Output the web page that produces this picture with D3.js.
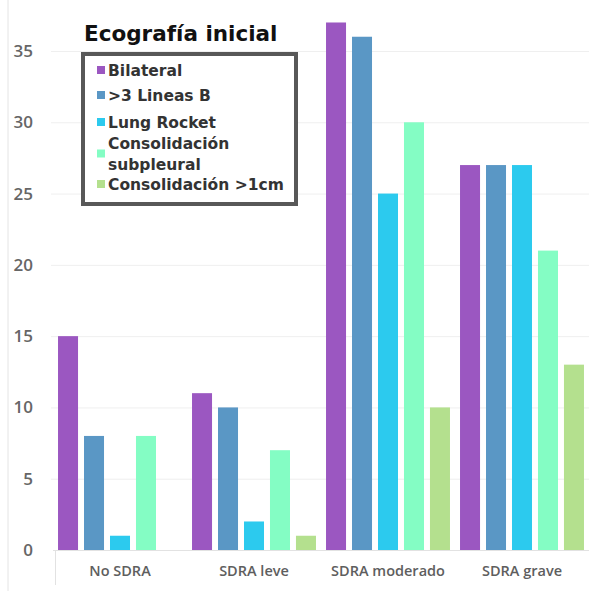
<!DOCTYPE html>
<html>
<head>
<meta charset="utf-8">
<script src="https://cdn.jsdelivr.net/npm/d3@7"></script>
<style>
  html, body { margin: 0; padding: 0; background: #fff; }
  svg { display: block; }
</style>
</head>
<body>
<svg id="chart" width="589" height="591"></svg>
<script>
// Groups along the x axis
const categories = ["No SDRA", "SDRA leve", "SDRA moderado", "SDRA grave"];
// Ultrasound findings (one bar per finding inside each group)
const seriesNames = ["Bilateral", ">3 Lineas B", "Lung Rocket", "Consolidación subpleural", "Consolidación >1cm"];
const bilateral = [15, 11, 37, 27];
const lineasB = [8, 10, 36, 27];
const lungRocket = [1, 2, 25, 27];
const consSubpleural = [8, 7, 30, 21];
const consMayor1cm = [0, 1, 10, 13];
const yTicks = [0, 5, 10, 15, 20, 25, 30, 35];
const title = "Ecografía inicial";

const seriesValues = [bilateral, lineasB, lungRocket, consSubpleural, consMayor1cm];
const colors = ["#9b57c1", "#5a97c5", "#2ccaee", "#84fdc4", "#b4e08e"];

(function draw() {
  const svg = d3.select("#chart");
  const plotLeft = 53, plotRight = 589, plotTop = 51, plotBottom = 550;

  const x = d3.scaleBand().domain(categories).range([plotLeft, plotRight]).paddingInner(0.075).paddingOuter(0.0375);
  const xInner = d3.scaleBand().domain(seriesNames).range([0, x.bandwidth()]).paddingInner(0.23).paddingOuter(0);
  const y = d3.scaleLinear().domain([0, 35]).range([plotBottom, plotTop]);

  // left frame line
  svg.append("line").attr("x1", 8).attr("x2", 8).attr("y1", 0).attr("y2", 591)
    .attr("stroke", "#e4e4e4").attr("stroke-width", 1);

  // horizontal gridlines
  svg.append("g").selectAll("line").data(yTicks.filter(d => d > 0)).join("line")
    .attr("x1", plotLeft - 2).attr("x2", plotRight)
    .attr("y1", d => y(d) + 0.5).attr("y2", d => y(d) + 0.5)
    .attr("stroke", "#efefef").attr("stroke-width", 1);

  // y axis tick labels
  const yAxis = d3.axisLeft(y).tickValues(yTicks).tickSize(0).tickPadding(0);
  const gy = svg.append("g").attr("transform", "translate(33,0)").call(yAxis);
  gy.select(".domain").remove();
  gy.selectAll("text")
    .attr("font-family", "'Open Sans', sans-serif").attr("font-weight", 600)
    .attr("font-size", 17).attr("fill", "#666");

  // bars
  const groups = svg.append("g").selectAll("g").data(categories).join("g")
    .attr("transform", d => `translate(${x(d)},0)`);
  groups.selectAll("rect")
    .data((c, ci) => seriesNames.map((s, si) => ({ s, si, v: seriesValues[si][ci] })))
    .join("rect")
    .attr("x", d => xInner(d.s))
    .attr("width", xInner.bandwidth())
    .attr("y", d => y(d.v))
    .attr("height", d => y(0) - y(d.v))
    .attr("fill", d => colors[d.si]);

  // x axis line and category labels
  svg.append("line").attr("x1", plotLeft).attr("x2", plotRight).attr("y1", plotBottom + 0.5).attr("y2", plotBottom + 0.5)
    .attr("stroke", "#e2e2e2");
  svg.append("line").attr("x1", plotLeft + 2.5).attr("x2", plotLeft + 2.5).attr("y1", plotBottom).attr("y2", 585)
    .attr("stroke", "#e2e2e2");
  const xAxis = d3.axisBottom(x).tickSize(0).tickPadding(0);
  const gx = svg.append("g").attr("transform", `translate(0,${plotBottom + 16})`).call(xAxis);
  gx.select(".domain").remove();
  gx.selectAll("text")
    .attr("font-family", "'Open Sans', sans-serif").attr("font-weight", 600)
    .attr("font-size", 14.5).attr("fill", "#5e5e5e");

  // title
  svg.append("text").attr("x", 84).attr("y", 41).text(title)
    .attr("font-family", "'DejaVu Sans', sans-serif").attr("font-weight", "bold")
    .attr("font-size", 21.5).attr("fill", "#111");

  // legend box
  svg.append("rect").attr("x", 83).attr("y", 54).attr("width", 213).attr("height", 150)
    .attr("fill", "#fff").attr("stroke", "#585858").attr("stroke-width", 4);

  const legendRows = [
    { lines: ["Bilateral"], y: 70 },
    { lines: [">3 Lineas B"], y: 95 },
    { lines: ["Lung Rocket"], y: 122 },
    { lines: ["Consolidación", "subpleural"], y: 143 },
    { lines: ["Consolidación >1cm"], y: 184 }
  ];
  const lg = svg.append("g").selectAll("g").data(legendRows).join("g");
  lg.append("rect")
    .attr("x", 97).attr("width", 8).attr("height", 8)
    .attr("y", d => (d.lines.length > 1 ? d.y + 10.5 : d.y) - 4)
    .attr("fill", (d, i) => colors[i]);
  lg.each(function (d) {
    const t = d3.select(this).append("text")
      .attr("font-family", "'DejaVu Sans', sans-serif").attr("font-weight", "bold")
      .attr("font-size", 15.5).attr("fill", "#333");
    d.lines.forEach((ln, k) => {
      t.append("tspan").attr("x", 108).attr("y", d.y + 5.5 + k * 21).text(ln);
    });
  });
})();
</script>
</body>
</html>
